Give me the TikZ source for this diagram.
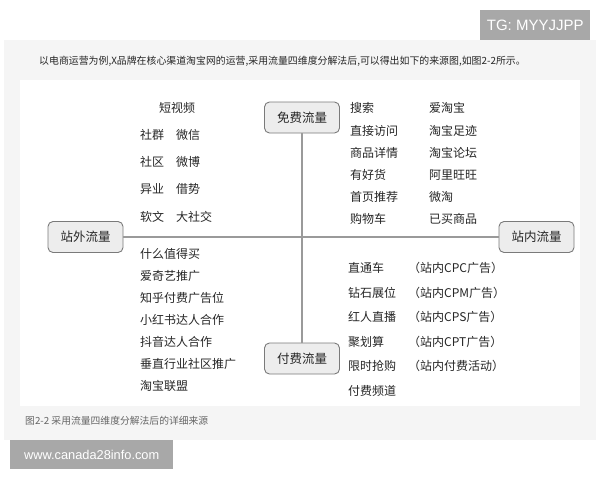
\documentclass[tikz,border=0pt]{standalone}
\usepackage{fontspec}
\setmainfont{Liberation Sans}
\newfontfamily\cjk{Noto Sans CJK SC}
\newfontfamily\latn{Liberation Sans}
\definecolor{panelgray}{HTML}{F5F5F5}
\definecolor{badgegray}{HTML}{A8A8A8}
\definecolor{boxfill}{HTML}{EDEDED}
\definecolor{boxline}{HTML}{7A7A7A}
\definecolor{linegray}{HTML}{9A9A9A}
\definecolor{txt}{HTML}{262626}
\definecolor{captxt}{HTML}{666666}
\tikzset{
  item/.style={anchor=west, inner sep=0pt, text=txt, font=\cjk\fontsize{12}{14}\selectfont},
  catbox/.style={draw=boxline, fill=boxfill, rounded corners=5pt, line width=0.9pt,
    minimum width=75pt, minimum height=31pt, inner sep=0pt, text=txt,
    font=\cjk\fontsize{12.5}{14}\selectfont},
  axis/.style={draw=linegray, line width=1.2pt},
  badge/.style={fill=badgegray, text=white, inner sep=0pt, anchor=north west}
}
\begin{document}
\begin{tikzpicture}[x=1pt,y=-1pt]
\useasboundingbox (0,0) rectangle (600,480);
\fill[white] (0,0) rectangle (600,480);
% panel
\fill[panelgray] (4,40) rectangle (596,440);
\fill[white] (20,80) rectangle (580,406);
% badges
\node[badge, minimum width=110pt, minimum height=30pt, font=\latn\fontsize{15}{16}\selectfont] (tg) at (480,10) {TG: MYYJJPP};
\node[badge, minimum width=163pt, minimum height=29pt, font=\latn\fontsize{12.8}{15}\selectfont] (wm) at (10,440) {www.canada28info.com};
% captions
\node[anchor=west, inner sep=0pt, text=txt, font=\cjk\fontsize{9.9}{11}\selectfont] (cap1) at (39,61) {以电商运营为例,X品牌在核心渠道淘宝网的运营,采用流量四维度分解法后,可以得出如下的来源图,如图2-2所示。};
\node[anchor=west, inner sep=0pt, text=captxt, font=\cjk\fontsize{9.8}{11}\selectfont] (cap2) at (25,421) {图2-2\ 采用流量四维度分解法后的详细来源};
% category boxes
\node[catbox] (wai) at (85.5,237) {站外流量};
\node[catbox] (nei) at (536.5,237) {站内流量};
\node[catbox] (mian) at (302,117.5) {免费流量};
\node[catbox] (fu) at (302,358.5) {付费流量};
\draw[axis] (wai.east) -- (nei.west);
\draw[axis] (mian.south) -- (fu.north);
% left top
\node[item] (a1) at (159,108) {短视频};
\node[item] (a2) at (140,135) {社群};
\node[item] (a2b) at (176,135) {微信};
\node[item] (a3) at (140,162) {社区};
\node[item] (a3b) at (176,162) {微博};
\node[item] (a4) at (140,189) {异业};
\node[item] (a4b) at (176,189) {借势};
\node[item] (a5) at (140,217) {软文};
\node[item] (a5b) at (176,217) {大社交};
% left bottom
\node[item] (b1) at (140,254) {什么值得买};
\node[item] (b2) at (140,275.5) {爱奇艺推广};
\node[item] (b3) at (140,297.5) {知乎付费广告位};
\node[item] (b4) at (140,320) {小红书达人合作};
\node[item] (b5) at (140,342) {抖音达人合作};
\node[item] (b6) at (140,364) {垂直行业社区推广};
\node[item] (b7) at (140,386) {淘宝联盟};
% right top
\node[item] (c1) at (350,108) {搜索};
\node[item] (c1b) at (429,108) {爱淘宝};
\node[item] (c2) at (350,130.5) {直接访问};
\node[item] (c2b) at (429,130.5) {淘宝足迹};
\node[item] (c3) at (350,152.5) {商品详情};
\node[item] (c3b) at (429,152.5) {淘宝论坛};
\node[item] (c4) at (350,175) {有好货};
\node[item] (c4b) at (429,175) {阿里旺旺};
\node[item] (c5) at (350,197) {首页推荐};
\node[item] (c5b) at (429,197) {微淘};
\node[item] (c6) at (350,219) {购物车};
\node[item] (c6b) at (429,219) {已买商品};
% right bottom
\node[item] (d1) at (348,268) {直通车};
\node[item] (d1b) at (408,268) {（站内CPC广告）};
\node[item] (d2) at (348,293) {钻石展位};
\node[item] (d2b) at (408,293) {（站内CPM广告）};
\node[item] (d3) at (348,317) {红人直播};
\node[item] (d3b) at (408,317) {（站内CPS广告）};
\node[item] (d4) at (348,342) {聚划算};
\node[item] (d4b) at (408,342) {（站内CPT广告）};
\node[item] (d5) at (348,366) {限时抢购};
\node[item] (d5b) at (408,366) {（站内付费活动）};
\node[item] (d6) at (348,391) {付费频道};
\end{tikzpicture}
\end{document}
